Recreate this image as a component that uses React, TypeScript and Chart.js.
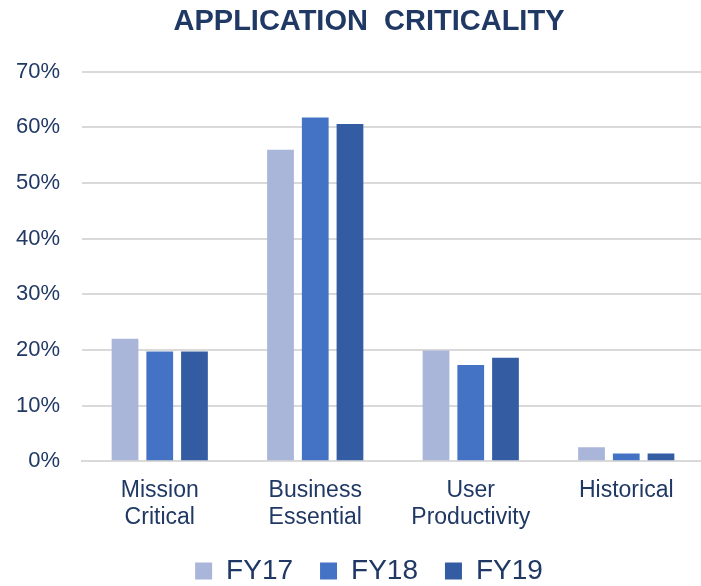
import React, { useEffect, useRef } from "react";
import { Chart, registerables } from "chart.js";

Chart.register(...registerables);

const categories: (string | string[])[] = [
  ["Mission", "Critical"],
  ["Business", "Essential"],
  ["User", "Productivity"],
  "Historical",
];
const seriesNames = ["FY17", "FY18", "FY19"];
const fy17 = [22.0, 56.0, 19.9, 2.5];
const fy18 = [19.7, 61.8, 17.3, 1.4];
const fy19 = [19.7, 60.6, 18.6, 1.4];
const yTicks = [0, 10, 20, 30, 40, 50, 60, 70];

const NAVY = "#1F3864";
const FONT = "'Liberation Sans', Arial, sans-serif";

const widenYLabels = {
  id: "widenYLabels",
  afterLayout(chart: any) {
    const y = chart.scales.y;
    if (y) y.left = 0;
  },
};

export default function App() {
  const ref = useRef<HTMLCanvasElement>(null);
  useEffect(() => {
    if (!ref.current) return;
    const chart = new Chart(ref.current, {
      type: "bar",
      data: {
        labels: categories,
        datasets: [
          { label: seriesNames[0], data: fy17, backgroundColor: "#A9B6DA" },
          { label: seriesNames[1], data: fy18, backgroundColor: "#4472C4" },
          { label: seriesNames[2], data: fy19, backgroundColor: "#345CA2" },
        ],
      },
      plugins: [widenYLabels],
      options: {
        animation: false,
        responsive: false,
        maintainAspectRatio: false,
        layout: { padding: { left: 34, right: 2, top: 0, bottom: -9 } },
        datasets: {
          bar: { categoryPercentage: 0.67, barPercentage: 0.77 },
        },
        plugins: {
          title: {
            display: true,
            text: "APPLICATION  CRITICALITY",
            color: NAVY,
            font: { family: FONT, size: 29, weight: "bold" },
            padding: { top: 5, bottom: 32 },
          },
          legend: {
            position: "bottom",
            labels: {
              color: NAVY,
              boxWidth: 17,
              boxHeight: 17,
              padding: 27,
              font: { family: FONT, size: 28 },
            },
          },
          tooltip: { enabled: false },
        },
        scales: {
          x: {
            grid: { display: false, drawTicks: false },
            border: { display: true, color: "#D9D9D9", width: 2 },
            afterFit: (s: any) => {
              s.height -= 17;
            },
            ticks: {
              color: NAVY,
              padding: 16,
              maxRotation: 0,
              autoSkip: false,
              font: { family: FONT, size: 23, lineHeight: 1.17 },
            },
          },
          y: {
            min: 0,
            max: 70,
            afterFit: (s: any) => {
              s.width = 48;
            },
            afterBuildTicks: (s: any) => {
              s.ticks = yTicks.map((v) => ({ value: v }));
            },
            grid: { color: "#D9D9D9", lineWidth: 2, drawTicks: false },
            border: { display: false },
            ticks: {
              color: NAVY,
              padding: 22,
              font: { family: FONT, size: 22 },
              callback: (v: any) => v + "%",
            },
          },
        },
      },
    });
    return () => chart.destroy();
  }, []);
  return (
    <div
      style={{
        position: "absolute",
        left: 0,
        top: 0,
        width: 701,
        height: 586,
        overflow: "hidden",
        background: "#fff",
      }}
    >
      <canvas ref={ref} width={706} height={586} style={{ display: "block" }} />
    </div>
  );
}
